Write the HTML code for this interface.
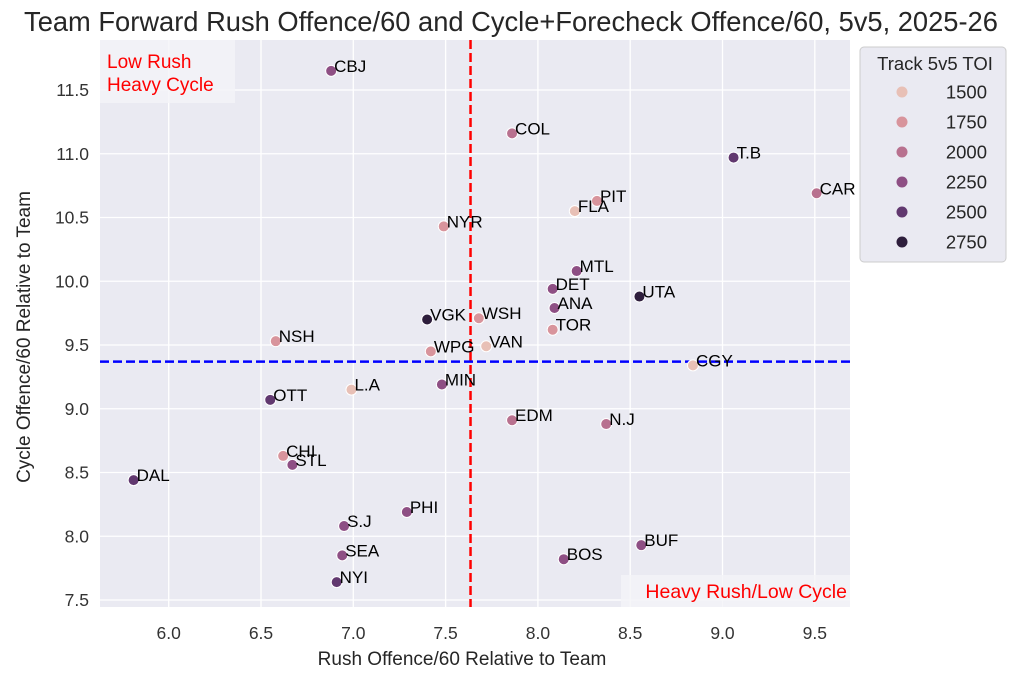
<!DOCTYPE html>
<html><head><meta charset="utf-8"><style>
body{margin:0;background:#fff;}
svg{font-family:"Liberation Sans",Arial,sans-serif;}
</style></head><body>
<svg id="chart" width="1024" height="684" viewBox="0 0 1024 684">
<text x="511" y="31" text-anchor="middle" font-size="27.3" fill="#262626">Team Forward Rush Offence/60 and Cycle+Forecheck Offence/60, 5v5, 2025-26</text>
<rect x="100" y="40" width="750" height="567" fill="#eaeaf2"/>
<g id="grid"></g>
<g id="refs"></g>
<g id="pts"></g>
<g>
<rect x="100" y="40" width="135" height="63" fill="#f4f4f8" opacity="0.8"/>
<text x="107" y="68" font-size="19" fill="red">Low Rush</text>
<text x="107" y="91" font-size="19" fill="red">Heavy Cycle</text>
</g>
<g>
<rect x="621" y="575" width="229" height="32" fill="#f4f4f8" opacity="0.8"/>
<text x="847" y="598" font-size="19.5" fill="red" text-anchor="end">Heavy Rush/Low Cycle</text>
</g>
<text x="462" y="665" text-anchor="middle" font-size="19" fill="#262626">Rush Offence/60 Relative to Team</text>
<text transform="translate(30,337) rotate(-90)" text-anchor="middle" font-size="19" fill="#262626">Cycle Offence/60 Relative to Team</text>
<g id="legend">
<rect x="860" y="47" width="146" height="215" rx="4" fill="#eaeaf2" stroke="#cccccc"/>
<text x="935" y="70" text-anchor="middle" font-size="18.5" fill="#262626">Track 5v5 TOI</text>
</g>
</svg>
<script>
const teams=["CBJ","COL","T.B","CAR","PIT","FLA","NYR","MTL","DET","UTA","ANA","VGK","WSH","TOR","NSH","WPG","VAN","CGY","L.A","MIN","OTT","EDM","N.J","CHI","STL","DAL","PHI","S.J","SEA","BUF","BOS","NYI"];
const rush=[6.88,7.86,9.06,9.51,8.32,8.20,7.49,8.21,8.08,8.55,8.09,7.40,7.68,8.08,6.58,7.42,7.72,8.84,6.99,7.48,6.55,7.86,8.37,6.62,6.67,5.81,7.29,6.95,6.94,8.56,8.14,6.91];
const cycle=[11.65,11.16,10.97,10.69,10.63,10.55,10.43,10.08,9.94,9.88,9.79,9.70,9.71,9.62,9.53,9.45,9.49,9.34,9.15,9.19,9.07,8.91,8.88,8.63,8.56,8.44,8.19,8.08,7.85,7.93,7.82,7.64];
const toi=[2250,2000,2500,2000,1750,1500,1750,2250,2250,2750,2250,2750,1750,1750,1750,1750,1500,1500,1500,2250,2500,2000,2000,1750,2250,2500,2250,2250,2250,2250,2250,2500];
const xTicks=[6.0,6.5,7.0,7.5,8.0,8.5,9.0,9.5];
const yTicks=[7.5,8.0,8.5,9.0,9.5,10.0,10.5,11.0,11.5];
const legendVals=[1500,1750,2000,2250,2500,2750];
const rushMean=7.635, cycleMean=9.37;

const NS="http://www.w3.org/2000/svg";
const X=v=>168.7+(v-6.0)*184.6;
const Y=v=>90-(v-11.5)*127.5;
const pal=[[232,192,182],[216,148,156],[184,113,143],[142,79,132],[97,56,111],[46,30,60]];
function col(t){let f=(t-1500)/250;f=Math.max(0,Math.min(5,f));const i=Math.min(4,Math.floor(f)),r=f-i;const c=pal[i].map((a,k)=>Math.round(a+(pal[i+1][k]-a)*r));return `rgb(${c})`;}
function mk(tag,a,p){const e=document.createElementNS(NS,tag);for(const k in a)e.setAttribute(k,a[k]);p.appendChild(e);return e;}
const grid=document.getElementById('grid'),svg=document.getElementById('chart');
xTicks.forEach(v=>{
 const l=mk('line',{x1:X(v),x2:X(v),y1:40,y2:607,stroke:'#fff','stroke-width':1.3},grid);
 
 
 const t=mk('text',{x:X(v),y:639,'text-anchor':'middle','font-size':17.5,fill:'#333'},svg);
 t.textContent=v.toFixed(1);
 
 
});
yTicks.forEach(v=>{
 const l=mk('line',{x1:100,x2:850,y1:Y(v),y2:Y(v),stroke:'#fff','stroke-width':1.3},grid);
 
 
 const t=mk('text',{x:89,y:Y(v)+6,'text-anchor':'end','font-size':17.5,fill:'#333'},svg);
 t.textContent=v.toFixed(1);
 
 
});
const refs=document.getElementById('refs');
const vl=mk('line',{x1:X(rushMean),x2:X(rushMean),y1:40,y2:607,stroke:'red','stroke-width':2.5,'stroke-dasharray':'9,4'},refs);


const hl=mk('line',{x1:100,x2:850,y1:Y(cycleMean),y2:Y(cycleMean),stroke:'blue','stroke-width':2.5,'stroke-dasharray':'9,4'},refs);


const pts=document.getElementById('pts');
teams.forEach((n,i)=>{
 const c=mk('circle',{cx:X(rush[i]),cy:Y(cycle[i]),r:5.5,fill:col(toi[i]),stroke:'#fff','stroke-width':1},pts);
 
 
 const t=mk('text',{x:X(rush[i])+3,y:Y(cycle[i])+1,'font-size':17,fill:'#000'},pts);
 t.textContent=n;
 
 
});
const lg=document.getElementById('legend');
legendVals.forEach((v,i)=>{
 const y=92+i*30;
 const c=mk('circle',{cx:902,cy:y,r:5.5,fill:col(v)},lg);
 
 
 const t=mk('text',{x:987,y:y+6.5,'text-anchor':'end','font-size':18.5,fill:'#262626'},lg);
 t.textContent=v;
 
 
});
</script>
</body></html>
